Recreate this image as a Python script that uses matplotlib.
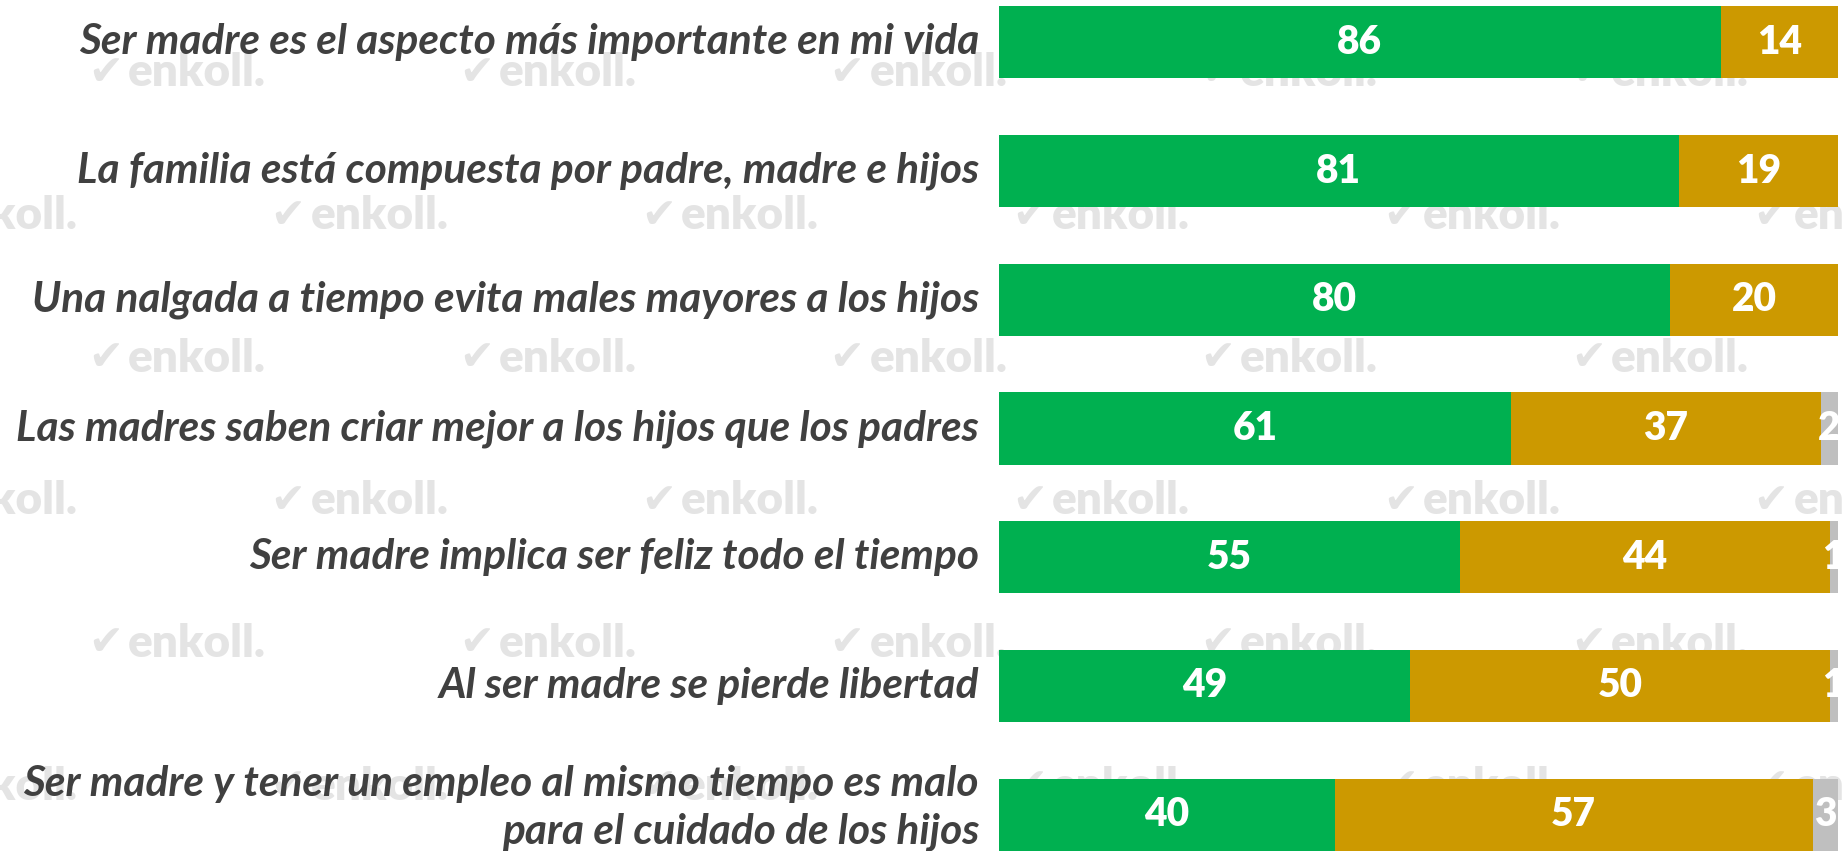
import matplotlib
matplotlib.use("Agg")
import matplotlib.pyplot as plt
from matplotlib.transforms import blended_transform_factory

# ---- data ----
categories = [
    "Ser madre es el aspecto más importante en mi vida",
    "La familia está compuesta por padre, madre e hijos",
    "Una nalgada a tiempo evita males mayores a los hijos",
    "Las madres saben criar mejor a los hijos que los padres",
    "Ser madre implica ser feliz todo el tiempo",
    "Al ser madre se pierde libertad",
    "Ser madre y tener un empleo al mismo tiempo es malo\npara el cuidado de los hijos",
]
acuerdo = [86, 81, 80, 61, 55, 49, 40]
desacuerdo = [14, 19, 20, 37, 44, 50, 57]
ns_nc = [0, 0, 0, 2, 1, 1, 3]

colors = ["#00B050", "#CC9900", "#BFBFBF"]
series = [acuerdo, desacuerdo, ns_nc]

W, H = 1845, 851
fig = plt.figure(figsize=(W / 100, H / 100), dpi=100)
fig.patch.set_facecolor("white")

# ---- watermark (decorative) ----
wm_color = "#E4E4E4"
row_y0, row_dy = 73, 142.6
col_dx = 370.7
for r in range(6):
    start = 88 if r % 2 == 0 else 88 + 182.6 - col_dx
    y = 1 - (row_y0 + r * row_dy) / H
    x = start
    while x < W + 50:
        fig.text(x / W, y, "✔", color=wm_color, fontsize=30,
                 family=["DejaVu Sans"], ha="left", va="center", zorder=0)
        fig.text((x + 40) / W, y, "enkoll.", color=wm_color, fontsize=33,
                 family=["Lato", "DejaVu Sans"], fontweight="heavy",
                 ha="left", va="center", zorder=0)
        x += col_dx

# ---- bars ----
ax = fig.add_axes([999 / W, 0, (1838 - 999) / W, 1])
ax.set_facecolor("none")
ax.set_zorder(2)
n = len(categories)
ypos = list(range(n))
left = [0] * n
for vals, col in zip(series, colors):
    ax.barh(ypos, vals, left=left, height=0.56, color=col, edgecolor="none", zorder=3)
    for i, v in enumerate(vals):
        if v > 0:
            ax.text(left[i] + v / 2, i, str(v), color="white", fontsize=28,
                    fontweight="heavy", family=["Lato", "DejaVu Sans"],
                    ha="center", va="center", clip_on=True, zorder=4)
    left = [l + v for l, v in zip(left, vals)]

ax.set_xlim(0, 100)
ax.set_ylim(6.283, -0.33)
ax.axis("off")

# ---- category labels ----
trans = blended_transform_factory(fig.transFigure, ax.transData)
renderer = fig.canvas.get_renderer()
probe = fig.text(0, 0, categories[0], fontsize=30, fontweight="bold",
                 style="italic", family=["Lato", "DejaVu Sans"])
wpx = probe.get_window_extent(renderer).width
probe.remove()
fs = 30 * 901 / wpx

for i, c in enumerate(categories):
    yy = i - 0.05 if "\n" in c else i
    fig.text(979 / W, yy, c, transform=trans, fontsize=fs, fontweight="bold",
             style="italic", family=["Lato", "DejaVu Sans"], color="#404040",
             ha="right", va="center", multialignment="right", linespacing=1.3,
             zorder=5)

fig.savefig("out.png", dpi=100, facecolor="white")
